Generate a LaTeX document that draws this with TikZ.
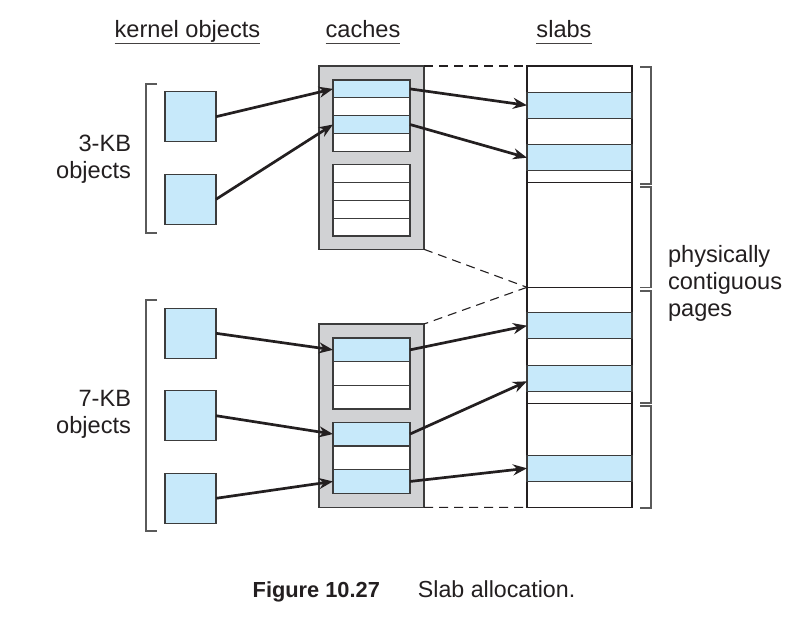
\documentclass[tikz,border=0pt]{standalone}
\usepackage{fontspec}
\setmainfont{Liberation Sans}
\usetikzlibrary{arrows.meta,calc}
\definecolor{ink}{HTML}{231F20}
\definecolor{objblue}{HTML}{C7E9FA}
\definecolor{cachegray}{HTML}{D1D2D4}
\definecolor{edge}{HTML}{3C3C3C}
\definecolor{bracket}{HTML}{5A5A5A}

\begin{document}
\begin{tikzpicture}[x=1bp,y=-1bp,
  every node/.style={inner sep=0pt,outer sep=0pt},
  txt/.style={font=\fontsize{23.6bp}{27bp}\selectfont, text=ink},
  captxt/.style={font=\fontsize{23.2bp}{27bp}\selectfont, text=ink},
  objbox/.style={draw=edge,line width=1.3bp,fill=objblue,minimum width=51bp,minimum height=50bp,anchor=north west},
  cachebox/.style={draw=edge,line width=1.3bp,fill=cachegray,minimum width=105bp,minimum height=183.3bp,anchor=north west},
  slotfull/.style={draw=edge,line width=1.3bp,fill=objblue,minimum width=77bp,anchor=north west},
  slotfree/.style={draw=edge,line width=1.3bp,fill=white,minimum width=77bp,anchor=north west},
  slabcol/.style={draw=ink,line width=1.3bp,fill=white,minimum width=105bp,minimum height=441.3bp,anchor=north west},
  stripe/.style={draw=edge,line width=1.3bp,fill=objblue,minimum width=105bp,minimum height=26bp,anchor=north west},
  pageline/.style={draw=ink,line width=1.3bp},
  ptr/.style={draw=ink,line width=2.7bp,-{Stealth[length=14bp,width=11bp]}},
  link/.style={draw=ink,line width=1.1bp,dash pattern=on 9bp off 6bp},
  brk/.style={draw=bracket,line width=1.5bp},
  uline/.style={draw=ink!85,line width=1.4bp}
]
\useasboundingbox[fill=white] (0,0) rectangle (807,631);

% column headings
\node[txt,anchor=base] (hk) at (187.5,38) {kernel objects};
\node[txt,anchor=base] (hc) at (363,38) {caches};
\node[txt,anchor=base] (hs) at (564,38) {slabs};
\foreach \h in {hk,hc,hs}
  \draw[uline] ($(\h.base west)+(0,5.3)$) -- ($(\h.base east)+(0,5.3)$);

% kernel objects
\node[objbox] (o1) at (165,91.7) {};
\node[objbox] (o2) at (165,174.3) {};
\node[objbox] (o3) at (165,308.3) {};
\node[objbox] (o4) at (165,390.7) {};
\node[objbox] (o5) at (165,473.3) {};

% object size groups
\draw[brk] (157,84) -- (146,84) -- (146,233) -- (157,233);
\draw[brk] (157,300) -- (146,300) -- (146,531) -- (157,531);
\node[txt,align=right,anchor=base east] (l3) at (131,178.3) {3-KB\\objects};
\node[txt,align=right,anchor=base east] (l7) at (131,433.3) {7-KB\\objects};

% caches
\node[cachebox] (c1) at (319,66) {};
\node[cachebox] (c2) at (319,324) {};

\node[slotfull,minimum height=17.8bp] (c1a) at (333,80) {};
\node[slotfree,minimum height=17.8bp] (c1b) at (333,97.8) {};
\node[slotfull,minimum height=17.8bp] (c1c) at (333,115.6) {};
\node[slotfree,minimum height=17.8bp] (c1d) at (333,133.4) {};
\node[slotfree,minimum height=17.8bp] (c1e) at (333,164.8) {};
\node[slotfree,minimum height=17.8bp] (c1f) at (333,182.6) {};
\node[slotfree,minimum height=17.8bp] (c1g) at (333,200.4) {};
\node[slotfree,minimum height=17.8bp] (c1h) at (333,218.2) {};

\node[slotfull,minimum height=23.7bp] (c2a) at (333,338) {};
\node[slotfree,minimum height=23.7bp] (c2b) at (333,361.7) {};
\node[slotfree,minimum height=23.7bp] (c2c) at (333,385.4) {};
\node[slotfull,minimum height=23.7bp] (c2d) at (333,422.2) {};
\node[slotfree,minimum height=23.7bp] (c2e) at (333,445.9) {};
\node[slotfull,minimum height=23.7bp] (c2f) at (333,469.6) {};

% slabs of physically contiguous pages
\node[slabcol] (slab) at (527,66) {};
\node[stripe] (s1) at (527,92.3) {};
\node[stripe] (s2) at (527,144.7) {};
\node[stripe] (s3) at (527,312.7) {};
\node[stripe] (s4) at (527,365.3) {};
\node[stripe] (s5) at (527,455.3) {};
\coordinate (pg1) at (527,182.7);
\coordinate (pg2) at (527,287.3);
\coordinate (pg3) at (527,403.3);
\foreach \p in {pg1,pg2,pg3}
  \draw[pageline] (\p) -- ++(105,0);

\draw[brk] (640,67) -- (651,67) -- (651,184) -- (640,184);
\draw[brk] (640,187) -- (651,187) -- (651,287.5) -- (640,287.5);
\draw[brk] (640,291) -- (651,291) -- (651,403) -- (640,403);
\draw[brk] (640,406) -- (651,406) -- (651,508) -- (640,508);
\node[txt,align=left,anchor=base west] (lp) at (668,316.7) {physically\\contiguous\\pages};

% caches span the slabs
\draw[link] (c1.north east) -- (slab.north west);
\draw[link] (c1.south east) -- (pg2);
\draw[link] (pg2) -- (c2.north east);
\draw[link] (c2.south east) -- (slab.south west);

% object -> cache slot
\draw[ptr] (o1.east) -- (c1a.west);
\draw[ptr] (o2.east) -- (c1c.west);
\draw[ptr] (o3.east) -- (c2a.west);
\draw[ptr] (o4.east) -- (c2d.west);
\draw[ptr] (o5.east) -- (c2f.west);

% cache slot -> slab
\draw[ptr] (c1a.east) -- (s1.west);
\draw[ptr] (c1c.east) -- (s2.west);
\draw[ptr] (c2a.east) -- (s3.west);
\draw[ptr] (c2d.east) -- ([yshift=-3bp]s4.west);
\draw[ptr] (c2f.east) -- (s5.west);

% caption
\node[captxt,anchor=base] (cap) at (414,597) {{\fontsize{21.8bp}{27bp}\selectfont\bfseries Figure 10.27}\hspace{38bp}Slab allocation.};
\end{tikzpicture}
\end{document}
